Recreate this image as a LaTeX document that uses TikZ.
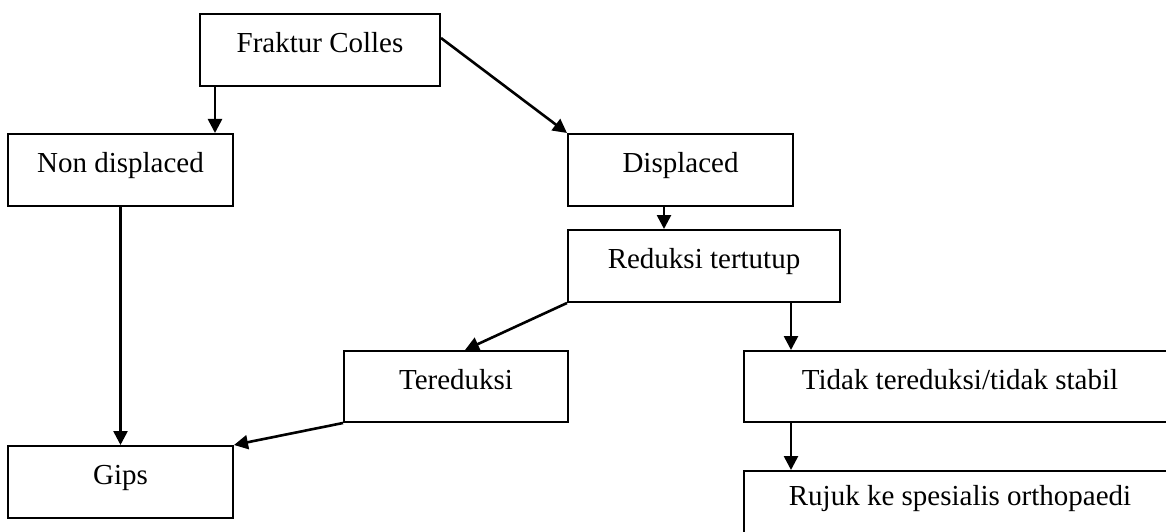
\documentclass[tikz,border=0pt]{standalone}
\usepackage{fontspec}
\setmainfont{Liberation Serif}
\usetikzlibrary{calc,arrows.meta}
\begin{document}
\begin{tikzpicture}[x=1pt,y=-1pt,
  box/.style={draw,line width=2pt,anchor=north west,rectangle,inner xsep=0pt,inner ysep=0pt,
    font=\fontsize{29}{34}\selectfont,text height=38.5pt,text depth=33.5pt,align=center},
  arr/.style={line width=2.6pt,-{Triangle[length=14pt,width=14pt]}}]
\useasboundingbox (0,0) rectangle (1166,532);
\fill[white] (0,0) rectangle (1166,532);
\node[box,minimum width=240pt] (frak) at (199,13) {Fraktur Colles};
\node[box,minimum width=225pt] (nondisp) at (7,133) {Non displaced};
\node[box,minimum width=225pt] (disp) at (567,133) {Displaced};
\node[box,minimum width=272pt] (red) at (567,229) {Reduksi tertutup};
\node[box,minimum width=224pt,text depth=32.5pt] (ter) at (343,350) {Tereduksi};
\node[box,minimum width=432pt,text depth=32.5pt] (tidak) at (743,350) {Tidak tereduksi/tidak stabil};
\node[box,minimum width=432pt,text height=34pt,text depth=38pt] (rujuk) at (743,470) {Rujuk ke spesialis orthopaedi};
\node[box,minimum width=225pt] (gips) at (7,445) {Gips};
\coordinate (a1) at ($(frak.south west)+(16pt,0)$);
\coordinate (a2) at ($(frak.north east)+(0,-25pt)$);
\coordinate (a3) at ($(disp.south west)+(97pt,0)$);
\coordinate (a5) at ($(ter.north west)+(122pt,0)$);
\coordinate (a6) at ($(red.south west)+(224pt,0)$);
\coordinate (a8) at ($(tidak.south west)+(48pt,0)$);
\draw[arr] (a1) -- (a1 |- nondisp.north);
\draw[arr] (a2) -- (disp.north west);
\draw[arr] (a3) -- (a3 |- red.north);
\draw[arr] (nondisp.south) -- (nondisp.south |- gips.north);
\draw[arr] (red.south west) -- (a5);
\draw[arr] (a6) -- (a6 |- tidak.north);
\draw[arr] (ter.south west) -- (gips.north east);
\draw[arr] (a8) -- (a8 |- rujuk.north);
\end{tikzpicture}
\end{document}
